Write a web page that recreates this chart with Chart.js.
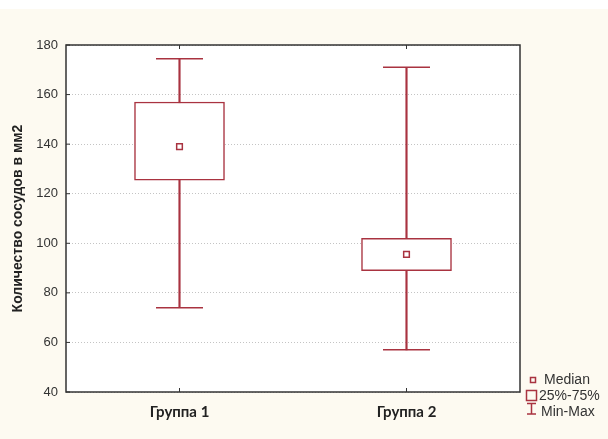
<!DOCTYPE html>
<html lang="ru">
<head>
<meta charset="UTF-8">
<title>Количество сосудов</title>
<script src="https://cdn.jsdelivr.net/npm/chart.js@4.4.0/dist/chart.umd.min.js"></script>
<style>
  html, body { margin: 0; padding: 0; }
  body {
    width: 608px; height: 439px;
    background: linear-gradient(#ffffff 0, #ffffff 9px, #fdfaf1 9px);
  }
  .chartBox { position: relative; width: 608px; height: 439px; }
</style>
</head>
<body>
<div class="chartBox">
  <canvas id="myChart"></canvas>
</div>
<script>
// values
const groups = ['Группа 1', 'Группа 2'];
const minVals = [74, 57];
const q1Vals = [125.5, 89];
const medianVals = [139, 95.5];
const q3Vals = [157, 102];
const maxVals = [174.5, 171];
const yTicks = [40, 60, 80, 100, 120, 140, 160, 180];
const legendLabels = ['Median', '25%-75%', 'Min-Max'];

const red = '#a93340';

// white plot area, frame, inward ticks and legend
const framePlugin = {
  id: 'frame',
  beforeDraw(chart) {
    const { ctx, chartArea: a } = chart;
    ctx.save();
    ctx.fillStyle = '#ffffff';
    ctx.fillRect(a.left, a.top, a.right - a.left, a.bottom - a.top);
    ctx.restore();
  },
  afterDraw(chart) {
    const { ctx, chartArea: a, scales } = chart;
    ctx.save();
    ctx.strokeStyle = '#333333';
    ctx.lineWidth = 1.5;
    ctx.strokeRect(a.left, a.top, a.right - a.left, a.bottom - a.top);
    ctx.lineWidth = 1;
    ctx.beginPath();
    yTicks.forEach(v => {
      const y = scales.y.getPixelForValue(v);
      ctx.moveTo(a.left, y);
      ctx.lineTo(a.left + 4, y);
    });
    groups.forEach((g, i) => {
      const x = scales.x.getPixelForValue(i);
      ctx.moveTo(x, a.top);
      ctx.lineTo(x, a.top + 4);
      ctx.moveTo(x, a.bottom);
      ctx.lineTo(x, a.bottom - 4);
    });
    ctx.stroke();

    // legend
    ctx.strokeStyle = red;
    ctx.lineWidth = 1.5;
    ctx.strokeRect(530.5, 377.5, 5, 5);
    ctx.strokeRect(526.5, 390.5, 10, 10);
    ctx.beginPath();
    ctx.moveTo(527, 403.5); ctx.lineTo(536, 403.5);
    ctx.moveTo(531.5, 403.5); ctx.lineTo(531.5, 414);
    ctx.moveTo(527, 414); ctx.lineTo(536, 414);
    ctx.stroke();
    ctx.fillStyle = '#333333';
    ctx.font = '14px "Liberation Sans", Arial, sans-serif';
    ctx.textBaseline = 'middle';
    ctx.fillText(legendLabels[0], 544, 380.5);
    ctx.fillText(legendLabels[1], 539, 396.5);
    ctx.fillText(legendLabels[2], 541, 412.5);
    ctx.restore();
  }
};

const ctx = document.getElementById('myChart').getContext('2d');
const myChart = new Chart(ctx, {
  type: 'bar',
  data: {
    labels: groups,
    datasets: [{
      label: 'Min-Max',
      data: groups.map((g, i) => [minVals[i], maxVals[i]]),
      backgroundColor: red,
      barThickness: 1.5,
      grouped: false,
      order: 5
    }, {
      label: '25%-75%',
      data: groups.map((g, i) => [q1Vals[i], q3Vals[i]]),
      backgroundColor: '#ffffff',
      borderColor: red,
      borderWidth: 1.5,
      borderSkipped: false,
      barThickness: 90,
      grouped: false,
      order: 4
    }, {
      type: 'line',
      label: 'max',
      data: maxVals,
      showLine: false,
      pointStyle: 'line',
      pointRadius: 23.5,
      borderColor: red,
      borderWidth: 1.5,
      order: 3
    }, {
      type: 'line',
      label: 'min',
      data: minVals,
      showLine: false,
      pointStyle: 'line',
      pointRadius: 23.5,
      borderColor: red,
      borderWidth: 1.5,
      order: 3
    }, {
      type: 'line',
      label: 'Median',
      data: medianVals,
      showLine: false,
      pointStyle: 'rect',
      pointRadius: 4,
      borderColor: red,
      backgroundColor: '#ffffff',
      borderWidth: 1.5,
      order: 1
    }]
  },
  options: {
    responsive: true,
    maintainAspectRatio: false,
    animation: false,
    layout: { padding: { left: 0, right: 88, top: 45, bottom: 0 } },
    plugins: {
      legend: { display: false },
      tooltip: { enabled: false }
    },
    scales: {
      x: {
        grid: { display: false, drawTicks: false },
        border: { display: false },
        ticks: {
          color: '#222222',
          padding: 11,
          font: { family: 'Lato', size: 15, weight: 'bold' }
        },
        afterFit: s => { s.height = 47; }
      },
      y: {
        min: 40,
        max: 180,
        afterBuildTicks: s => { s.ticks = yTicks.map(v => ({ value: v })); },
        grid: { color: '#c4c4c4', lineWidth: 1, drawTicks: false },
        border: { display: false, dash: [1, 2] },
        ticks: {
          color: '#333333',
          padding: 8,
          font: { family: '"Liberation Sans"', size: 13 }
        },
        title: {
          display: true,
          text: 'Количество сосудов в мм2',
          color: '#222222',
          padding: { top: 10, bottom: 0 },
          font: { family: '"Liberation Sans"', size: 14, weight: 'bold' }
        },
        afterFit: s => { s.width = 66; }
      }
    }
  },
  plugins: [framePlugin]
});
</script>
</body>
</html>
